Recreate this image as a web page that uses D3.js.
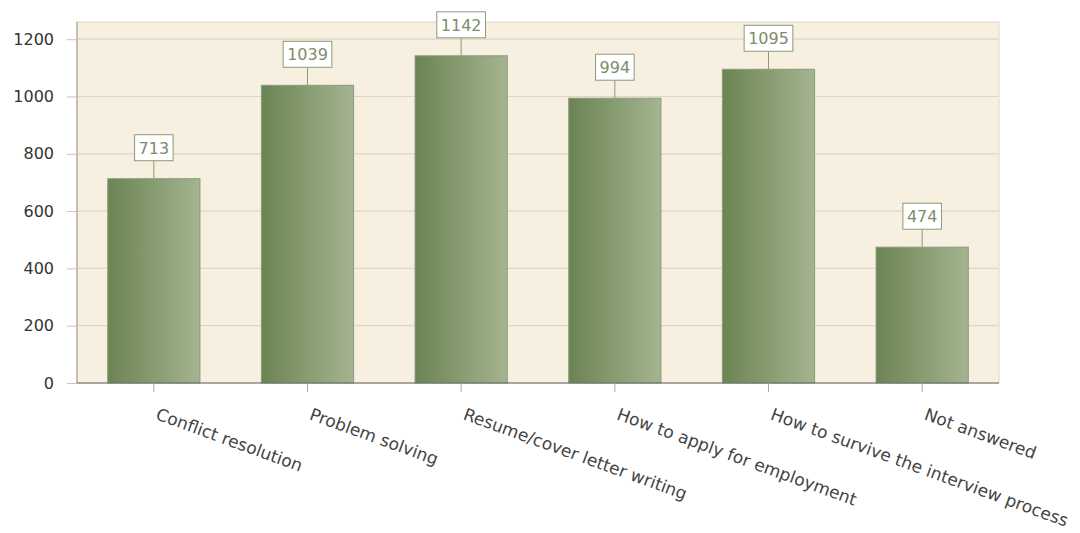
<!DOCTYPE html>
<html lang="en">
<head>
  <meta charset="UTF-8">
  <title>Workshop topics</title>
  <style>
    body { margin: 0; background: #fff; }
    text { font-family: "DejaVu Sans", Verdana, sans-serif; }
  </style>
</head>
<body>
  <svg id="svg" width="1080" height="533"></svg>
  <script src="https://d3js.org/d3.v7.min.js"></script>
  <script>
    const topics = ['Conflict resolution', 'Problem solving', 'Resume/cover letter writing',
      'How to apply for employment', 'How to survive the interview process', 'Not answered']
    const counts = [713, 1039, 1142, 994, 1095, 474]
    const yTicks = [0, 200, 400, 600, 800, 1000, 1200]

    const plotLeft = 77, plotRight = 999, plotTop = 22, plotBottom = 383

    const svg = d3.select('#svg')

    const xScale = d3.scaleBand()
      .domain(topics)
      .range([plotLeft, plotRight])
      .paddingInner(0.4)
      .paddingOuter(0.2)

    const yScale = d3.scaleLinear()
      .domain([0, 1260])
      .range([plotBottom, plotTop])

    const defs = svg.append('defs')
    const grad = defs.append('linearGradient')
      .attr('id', 'barGrad')
      .attr('x1', '0%').attr('x2', '100%')
      .attr('y1', '0%').attr('y2', '0%')
    grad.append('stop').attr('offset', '0%').attr('stop-color', '#6b8453')
    grad.append('stop').attr('offset', '100%').attr('stop-color', '#a4b490')

    // plot background
    svg.append('rect')
      .attr('x', plotLeft).attr('y', plotTop)
      .attr('width', plotRight - plotLeft).attr('height', plotBottom - plotTop)
      .attr('fill', '#f7efe0')
      .attr('stroke', '#ddd6ca')

    // grid lines
    svg.append('g')
      .selectAll('line')
      .data(yTicks.filter(d => d > 0))
      .enter()
      .append('line')
      .attr('x1', plotLeft).attr('x2', plotRight)
      .attr('y1', d => yScale(d)).attr('y2', d => yScale(d))
      .attr('stroke', '#ddd5c6')
      .attr('stroke-width', 1.2)

    // y axis
    const yAxis = svg.append('g')
      .attr('transform', `translate(${plotLeft},0)`)
      .call(d3.axisLeft(yScale).tickValues(yTicks).tickFormat(d3.format('d')).tickSize(10).tickPadding(13))
    yAxis.select('.domain').attr('stroke', '#9c978f').attr('d', `M0,${plotTop}V${plotBottom}`)
    yAxis.selectAll('.tick line').attr('stroke', '#c9c3b8')
    yAxis.selectAll('.tick text')
      .attr('fill', '#333')
      .style('font-size', '16px')
      .style('font-family', '"DejaVu Sans", Verdana, sans-serif')

    // bars
    svg.append('g')
      .selectAll('rect')
      .data(topics)
      .enter()
      .append('rect')
      .attr('x', d => xScale(d))
      .attr('y', (d, i) => yScale(counts[i]))
      .attr('width', xScale.bandwidth())
      .attr('height', (d, i) => plotBottom - yScale(counts[i]))
      .attr('fill', 'url(#barGrad)')
      .attr('stroke', '#8b9a79')
      .attr('stroke-width', 1)

    // x axis
    const xAxis = svg.append('g')
      .attr('transform', `translate(0,${plotBottom})`)
      .call(d3.axisBottom(xScale).tickSize(9).tickSizeOuter(0))
    xAxis.select('.domain').attr('stroke', '#666').attr('d', `M${plotLeft},0H${plotRight}`)
    xAxis.selectAll('.tick line').attr('stroke', '#aaa')
    xAxis.selectAll('.tick text')
      .attr('fill', '#444')
      .style('font-size', '17px')
      .style('font-family', '"DejaVu Sans", Verdana, sans-serif')
      .attr('text-anchor', 'start')
      .attr('dy', null)
      .attr('y', 0)
      .attr('transform', 'translate(1,36) rotate(20)')

    // value labels
    const labels = svg.append('g')
      .selectAll('g')
      .data(topics)
      .enter()
      .append('g')
      .attr('transform', (d, i) => `translate(${xScale(d) + xScale.bandwidth() / 2},${yScale(counts[i])})`)

    labels.append('line')
      .attr('x1', 0).attr('x2', 0)
      .attr('y1', 0).attr('y2', -18)
      .attr('stroke', '#8b9a79')

    labels.append('text')
      .attr('x', 0).attr('y', -25)
      .attr('text-anchor', 'middle')
      .attr('fill', '#7d8c6b')
      .style('font-size', '16px')
      .text((d, i) => counts[i])

    labels.each(function () {
      const g = d3.select(this)
      const bb = g.select('text').node().getBBox()
      g.insert('rect', 'text')
        .attr('x', bb.x - 4)
        .attr('y', -44)
        .attr('width', bb.width + 8)
        .attr('height', 26)
        .attr('fill', '#fff')
        .attr('stroke', '#8b9a79')
    })
  </script>
</body>
</html>
